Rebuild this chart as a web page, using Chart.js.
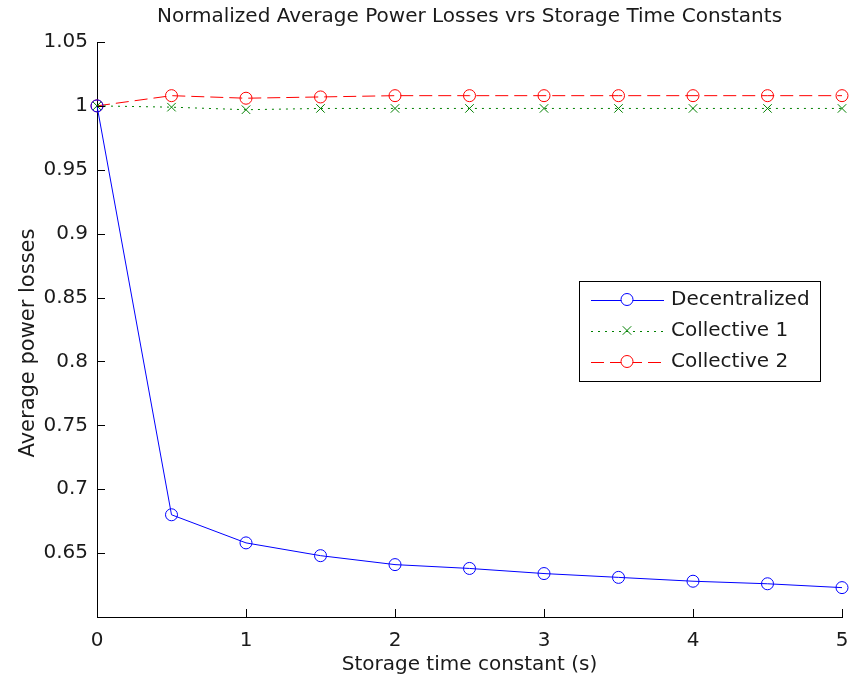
<!DOCTYPE html>
<html>
<head>
<meta charset="utf-8">
<script src="https://cdn.jsdelivr.net/npm/chart.js@4.4.1/dist/chart.umd.min.js"></script>
<style>
  html, body { margin: 0; padding: 0; background: #fff; }
  #wrap { width: 849px; height: 681px; position: relative; }
</style>
</head>
<body>
<div id="wrap"><canvas id="lossChart"></canvas></div>
<script>
// storage time constants (s)
const timeConstants = [0, 0.5, 1, 1.5, 2, 2.5, 3, 3.5, 4, 4.5, 5];

// normalized average power losses per control scheme
const decentralized = [1.0, 0.680, 0.658, 0.648, 0.641, 0.638, 0.634, 0.631, 0.628, 0.626, 0.623];
const collective1   = [1.0, 0.999, 0.997, 0.998, 0.998, 0.998, 0.998, 0.998, 0.998, 0.998, 0.998];
const collective2   = [1.0, 1.008, 1.006, 1.007, 1.008, 1.008, 1.008, 1.008, 1.008, 1.008, 1.008];

const xTicks = [0, 1, 2, 3, 4, 5];
const yTicks = [0.65, 0.7, 0.75, 0.8, 0.85, 0.9, 0.95, 1, 1.05];

const FONT = "'DejaVu Sans', sans-serif";
const TEXT = "#1a1a1a";

function toPoints(ys) {
  return timeConstants.map((x, i) => ({ x, y: ys[i] }));
}

// MATLAB-style inward tick marks on the left and bottom axes
const inwardTicks = {
  id: "inwardTicks",
  afterDraw(chart) {
    const { ctx, chartArea: a, scales } = chart;
    ctx.save();
    ctx.strokeStyle = "#000";
    ctx.lineWidth = 1;
    ctx.beginPath();
    yTicks.forEach((v) => {
      const y = Math.round(scales.y.getPixelForValue(v)) + 0.5;
      ctx.moveTo(a.left, y);
      ctx.lineTo(a.left + 8, y);
    });
    xTicks.forEach((v) => {
      const x = Math.round(scales.x.getPixelForValue(v)) + 0.5;
      ctx.moveTo(x, a.bottom);
      ctx.lineTo(x, a.bottom - 8);
    });
    ctx.stroke();
    ctx.restore();
  },
};

// title and axis labels
const labels = {
  id: "labels",
  afterDraw(chart) {
    const { ctx, chartArea: a } = chart;
    ctx.save();
    ctx.fillStyle = TEXT;
    ctx.font = "20px " + FONT;
    ctx.textAlign = "center";
    ctx.textBaseline = "middle";
    const cx = (a.left + a.right) / 2;
    ctx.fillText("Normalized Average Power Losses vrs Storage Time Constants", cx, 17);
    ctx.fillText("Storage time constant (s)", cx, 665);
    ctx.translate(29, 343);
    ctx.rotate(-Math.PI / 2);
    ctx.font = "21px " + FONT;
    ctx.fillText("Average power losses", 0, 0);
    ctx.restore();
  },
};

// boxed legend with line sample and marker
const boxLegend = {
  id: "boxLegend",
  afterDraw(chart) {
    const { ctx } = chart;
    const left = 579, top = 281, w = 241, h = 100;
    ctx.save();
    ctx.fillStyle = "#fff";
    ctx.fillRect(left, top, w, h);
    ctx.strokeStyle = "#000";
    ctx.lineWidth = 1;
    ctx.strokeRect(left + 0.5, top + 0.5, w, h);

    chart.data.datasets.forEach((ds, i) => {
      const y = top + 18.5 + i * 31;
      ctx.strokeStyle = ds.borderColor;
      ctx.lineWidth = 1;
      ctx.setLineDash(ds.borderDash || []);
      ctx.beginPath();
      ctx.moveTo(591, Math.round(y) + 0.5);
      ctx.lineTo(664, Math.round(y) + 0.5);
      ctx.stroke();
      ctx.setLineDash([]);
      ctx.fillStyle = "#fff";
      Chart.helpers.drawPoint(ctx, {
        pointStyle: ds.pointStyle,
        radius: ds.pointRadius,
        borderWidth: 1,
        rotation: 0,
      }, 627, y);
      ctx.fillStyle = TEXT;
      ctx.font = "20px " + FONT;
      ctx.textAlign = "left";
      ctx.textBaseline = "middle";
      ctx.fillText(ds.label, 671, y);
    });
    ctx.restore();
  },
};

function initLossChart() {
  const ctx = document.getElementById("lossChart");

  const common = {
    showLine: true,
    borderWidth: 1,
    pointBorderWidth: 1,
    pointBackgroundColor: "rgba(0,0,0,0)",
    tension: 0,
    clip: false,
  };

  new Chart(ctx, {
    type: "scatter",
    data: {
      datasets: [
        {
          ...common,
          label: "Decentralized",
          data: toPoints(decentralized),
          borderColor: "#0000ff",
          pointBorderColor: "#0000ff",
          pointStyle: "circle",
          pointRadius: 6,
        },
        {
          ...common,
          label: "Collective 1",
          data: toPoints(collective1),
          borderColor: "#008000",
          pointBorderColor: "#008000",
          borderDash: [2, 5],
          pointStyle: "crossRot",
          pointRadius: 6,
        },
        {
          ...common,
          label: "Collective 2",
          data: toPoints(collective2),
          borderColor: "#ff0000",
          pointBorderColor: "#ff0000",
          borderDash: [13, 6],
          pointStyle: "circle",
          pointRadius: 6,
        },
      ],
    },
    options: {
      responsive: true,
      maintainAspectRatio: false,
      animation: false,
      layout: { padding: { top: 42, right: 7, left: 0, bottom: 0 } },
      plugins: {
        legend: { display: false },
        tooltip: { enabled: false },
      },
      scales: {
        x: {
          type: "linear",
          min: 0,
          max: 5,
          afterFit: (s) => {
            s.height = 64;
            s.paddingLeft = 0;
            s.paddingRight = 0;
          },
          afterBuildTicks: (s) => { s.ticks = xTicks.map((v) => ({ value: v })); },
          grid: { display: false, drawTicks: false },
          border: { display: true, color: "#000", width: 1 },
          ticks: {
            padding: 12,
            color: TEXT,
            font: { family: FONT, size: 20 },
            callback: (v) => String(v),
          },
        },
        y: {
          type: "linear",
          min: 0.6,
          max: 1.05,
          afterFit: (s) => {
            s.width = 97;
            s.paddingTop = 0;
            s.paddingBottom = 0;
          },
          afterBuildTicks: (s) => { s.ticks = yTicks.map((v) => ({ value: v })); },
          grid: { display: false, drawTicks: false },
          border: { display: true, color: "#000", width: 1 },
          ticks: {
            padding: 9,
            color: TEXT,
            font: { family: FONT, size: 20 },
            callback: (v) => String(Number(v.toFixed(2))),
          },
        },
      },
    },
    plugins: [inwardTicks, labels, boxLegend],
  });
}

initLossChart();
</script>
</body>
</html>
